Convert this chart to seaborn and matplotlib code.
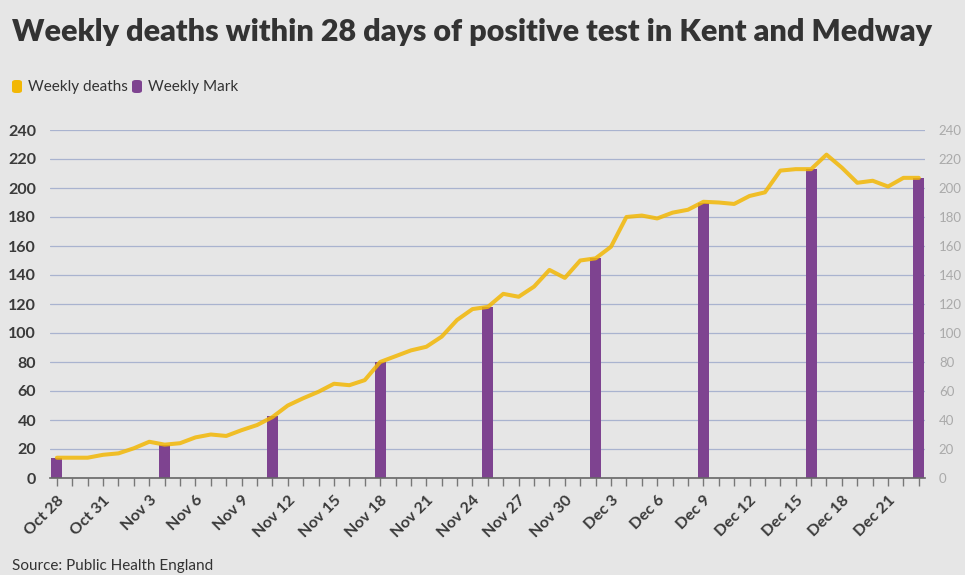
import numpy as np
import pandas as pd
import matplotlib
matplotlib.use("Agg")
import matplotlib.pyplot as plt
import seaborn as sns
from matplotlib.patches import FancyBboxPatch

# ---- data ----
start_date = "2020-10-28"
daily_deaths = [14, 14, 14, 16, 17, 20.5, 25, 23, 24, 28, 30, 29, 33, 36.5, 42,
                50, 55, 59.5, 65, 64, 67.5, 80, 84, 88, 90.5, 97.5, 109, 116.5, 118,
                127, 125, 132, 143.5, 138, 150, 151.5, 159.5, 180, 181, 179, 183, 185,
                190.5, 190, 189, 194.5, 197, 212, 213, 213, 223, 214, 203.6, 205, 201, 207, 207]
weekly_mark = [14, 23, 43, 80, 118, 152, 190, 213, 207]
y_ticks = [0, 20, 40, 60, 80, 100, 120, 140, 160, 180, 200, 220, 240]

dates = pd.date_range(start_date, periods=len(daily_deaths), freq="D")
day_num = np.arange(len(dates))
week_num = day_num[::7]

line_df = pd.DataFrame({"day": day_num, "deaths": daily_deaths})
bar_df = pd.DataFrame({"day": week_num, "mark": weekly_mark})

BG = "#e6e6e6"
YELLOW = "#f2b705"
PURPLE = "#7e4390"
GRID = "#a9b3cf"
DARK = "#3a3a3a"

sns.set_theme(style="white")
plt.rcParams["font.family"] = ["Lato", "DejaVu Sans"]

fig = plt.figure(figsize=(9.65, 5.75), dpi=100, facecolor=BG)
ax = fig.add_axes([50/965, 1-478/575, 875/965, 348/575])
ax.set_facecolor(BG)

sns.barplot(data=bar_df, x="day", y="mark", native_scale=True, width=0.102,
            color=PURPLE, saturation=1, ax=ax, zorder=2, edgecolor="none")
sns.lineplot(data=line_df, x="day", y="deaths", color=YELLOW, linewidth=2.9,
             alpha=0.85, ax=ax, zorder=3, solid_joinstyle="round",
             solid_capstyle="round")

ax.set_xlim(-0.45, 56.4)
ax.set_ylim(0, 240)
ax.set_yticks(y_ticks)
ax.set_yticklabels([str(v) for v in y_ticks], fontsize=11.5, fontweight="bold", color=DARK)
ax.grid(axis="y", color=GRID, linewidth=0.9, zorder=0)
ax.set_axisbelow(True)
ax.set_xlabel("")
ax.set_ylabel("")

major = day_num[::3]
ax.set_xticks(major)
ax.set_xticklabels([d.strftime("%b ") + str(d.day) for d in dates[::3]],
                   rotation=45, ha="right", rotation_mode="anchor",
                   fontsize=11.5, fontweight="bold", color=DARK)
ax.set_xticks(day_num, minor=True)
ax.tick_params(axis="x", which="both", direction="out", length=6, width=1,
               color="#777777", pad=5, bottom=True)
ax.tick_params(axis="y", length=0, pad=10)

for s in ["top", "right", "left"]:
    ax.spines[s].set_visible(False)
ax.spines["bottom"].set_color("#666666")
ax.spines["bottom"].set_linewidth(1.2)

# right axis labels
ax2 = ax.twinx()
ax2.set_ylim(0, 240)
ax2.set_yticks(y_ticks)
ax2.set_yticklabels([str(v) for v in y_ticks], fontsize=9.5, color="#aaaaaa")
ax2.tick_params(axis="y", length=0, pad=10)
for s in ["top", "right", "left", "bottom"]:
    ax2.spines[s].set_visible(False)

# title
fig.text(12/965, 1-32/575, "Weekly deaths within 28 days of positive test in Kent and Medway",
         fontsize=22.0, fontweight="heavy", color="#333333", va="center", ha="left")

# legend
def legend_item(x, color, label):
    fig.patches.append(FancyBboxPatch((x/965, 1-93/575), 10/965, 13/575,
                                      boxstyle="round,pad=0,rounding_size=0.004",
                                      transform=fig.transFigure, facecolor=color,
                                      edgecolor="none"))
    fig.text((x+16)/965, 1-87/575, label, fontsize=11, color="#333333",
             va="center", ha="left")

legend_item(12, YELLOW, "Weekly deaths")
legend_item(132, PURPLE, "Weekly Mark")

fig.text(12/965, 1-559/575, "Source: Public Health England", fontsize=11,
         color="#333333", va="top", ha="left")

fig.savefig("out.png", dpi=100, facecolor=BG)
